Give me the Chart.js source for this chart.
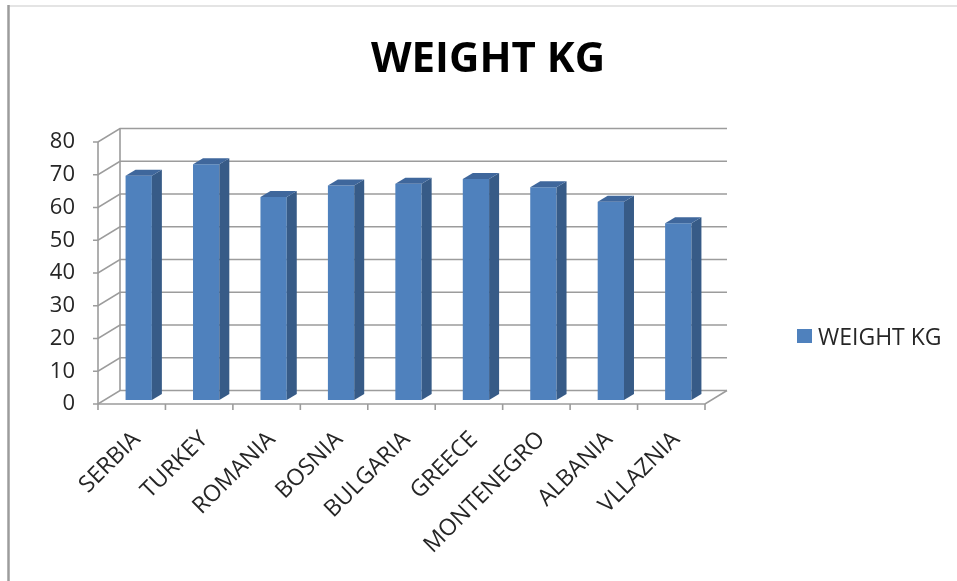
<!DOCTYPE html>
<html><head><meta charset="utf-8">
<script src="https://cdn.jsdelivr.net/npm/chart.js@4.4.1/dist/chart.umd.min.js"></script>
<style>html,body{margin:0;padding:0;background:#fff;} #wrap{width:957px;height:581px;position:relative;}</style>
</head><body><div id="wrap"><canvas id="c" width="957" height="581"></canvas></div>
<script>
const categories = ['SERBIA','TURKEY','ROMANIA','BOSNIA','BULGARIA','GREECE','MONTENEGRO','ALBANIA','VLLAZNIA'];
const weightKg = [68.5, 72, 62, 65.5, 66, 67.5, 65, 60.5, 54];
const seriesName = 'WEIGHT KG';
const titleText = 'WEIGHT KG';
const yMin = 0, yMax = 80, yStep = 10;

const DEPTH_X = 22, DEPTH_Y = 13.5;
const BAR_SHIFT_X = 7, BAR_SHIFT_Y = -4;
const BAR_DX = 10, BAR_DY = 6;
const GRID = '#9c9c9c';
const FRONT = '#4F81BD', SIDE = '#375B87', TOP = '#3f679c';
const TEXT = '#262626';

const threeD = {
  id: 'threeD',
  beforeDraw(chart) {
    const ctx = chart.ctx;
    ctx.save();
    ctx.fillStyle = '#fff';
    ctx.fillRect(0, 0, chart.width, chart.height);
    ctx.strokeStyle = '#e4e4e4'; ctx.lineWidth = 2;
    ctx.beginPath(); ctx.moveTo(8, 6); ctx.lineTo(chart.width, 6); ctx.stroke();
    ctx.strokeStyle = '#9c9c9c'; ctx.lineWidth = 2.5;
    ctx.beginPath(); ctx.moveTo(8.5, 5); ctx.lineTo(8.5, chart.height); ctx.stroke();
    ctx.restore();
  },
  beforeDatasetsDraw(chart) {
    const {ctx, chartArea: a, scales: {x, y}} = chart;
    ctx.save();
    ctx.strokeStyle = GRID; ctx.lineWidth = 1.6;
    const backRight = a.right + DEPTH_X;
    y.ticks.forEach(t => {
      const py = y.getPixelForValue(t.value);
      ctx.beginPath();
      ctx.moveTo(a.left - 5, py);
      ctx.lineTo(a.left, py);
      ctx.lineTo(a.left + DEPTH_X, py - DEPTH_Y);
      ctx.lineTo(backRight, py - DEPTH_Y);
      ctx.stroke();
    });
    const y0 = y.getPixelForValue(yMin), yT = y.getPixelForValue(yMax);
    ctx.beginPath();
    ctx.moveTo(a.left, y0); ctx.lineTo(a.left, yT);
    ctx.moveTo(a.left + DEPTH_X, y0 - DEPTH_Y); ctx.lineTo(a.left + DEPTH_X, yT - DEPTH_Y);
    ctx.moveTo(a.left, y0); ctx.lineTo(a.right, y0); ctx.lineTo(backRight, y0 - DEPTH_Y);
    ctx.stroke();
    const n = categories.length;
    const cw = (x.getPixelForValue(1) - x.getPixelForValue(0));
    for (let i = 0; i <= n; i++) {
      const px = x.getPixelForValue(0) - cw / 2 + i * cw;
      ctx.beginPath(); ctx.moveTo(px, y0); ctx.lineTo(px, y0 + 6); ctx.stroke();
    }
    ctx.restore();
    ctx.save();
    ctx.translate(BAR_SHIFT_X, BAR_SHIFT_Y);
  },
  afterDatasetsDraw(chart) {
    const ctx = chart.ctx;
    const meta = chart.getDatasetMeta(0);
    meta.data.forEach(el => {
      const p = el.getProps(['x', 'y', 'base', 'width'], true);
      const l = p.x - p.width / 2, r = p.x + p.width / 2;
      ctx.fillStyle = SIDE;
      ctx.beginPath();
      ctx.moveTo(r, p.y); ctx.lineTo(r + BAR_DX, p.y - BAR_DY);
      ctx.lineTo(r + BAR_DX, p.base - BAR_DY); ctx.lineTo(r, p.base);
      ctx.closePath(); ctx.fill();
      ctx.fillStyle = TOP;
      ctx.beginPath();
      ctx.moveTo(l, p.y); ctx.lineTo(l + BAR_DX, p.y - BAR_DY);
      ctx.lineTo(r + BAR_DX, p.y - BAR_DY); ctx.lineTo(r, p.y);
      ctx.closePath(); ctx.fill();
    });
    ctx.restore();
  },
  afterDraw(chart) {
    const ctx = chart.ctx;
    ctx.save();
    ctx.fillStyle = '#000';
    ctx.font = 'bold 42px "Open Sans"';
    ctx.textAlign = 'center'; ctx.textBaseline = 'alphabetic';
    ctx.fillText(titleText, 488, 72);
    ctx.fillStyle = FRONT;
    ctx.fillRect(797, 329, 15, 14);
    ctx.fillStyle = TEXT;
    ctx.font = '23px "Open Sans"';
    ctx.textAlign = 'left';
    ctx.fillText(chart.data.datasets[0].label, 818, 345);
    ctx.restore();
  }
};

new Chart(document.getElementById('c'), {
  type: 'bar',
  data: {
    labels: categories,
    datasets: [{
      label: seriesName,
      data: weightKg,
      backgroundColor: FRONT,
      borderWidth: 0,
      categoryPercentage: 1,
      barPercentage: 0.39,
      clip: false
    }]
  },
  options: {
    responsive: false,
    animation: false,
    events: [],
    layout: { padding: { top: 142, right: 252, left: 0, bottom: 0 } },
    plugins: { legend: { display: false }, title: { display: false }, tooltip: { enabled: false } },
    scales: {
      x: {
        grid: { display: false, drawTicks: false },
        border: { display: false },
        ticks: {
          autoSkip: false, minRotation: 45, maxRotation: 45, padding: 22, labelOffset: 5,
          color: TEXT, font: { family: 'Open Sans', size: 23 }
        },
        afterFit(s) { s.height = 177; s.paddingLeft = 0; s.paddingRight = 0; }
      },
      y: {
        min: yMin, max: yMax,
        grid: { display: false, drawTicks: false },
        border: { display: false },
        ticks: { stepSize: yStep, padding: 23, color: TEXT, font: { family: 'Open Sans', size: 22 } },
        afterFit(s) { s.width = 98; s.paddingTop = 0; s.paddingBottom = 0; }
      }
    }
  },
  plugins: [threeD]
});
</script>
</body></html>
